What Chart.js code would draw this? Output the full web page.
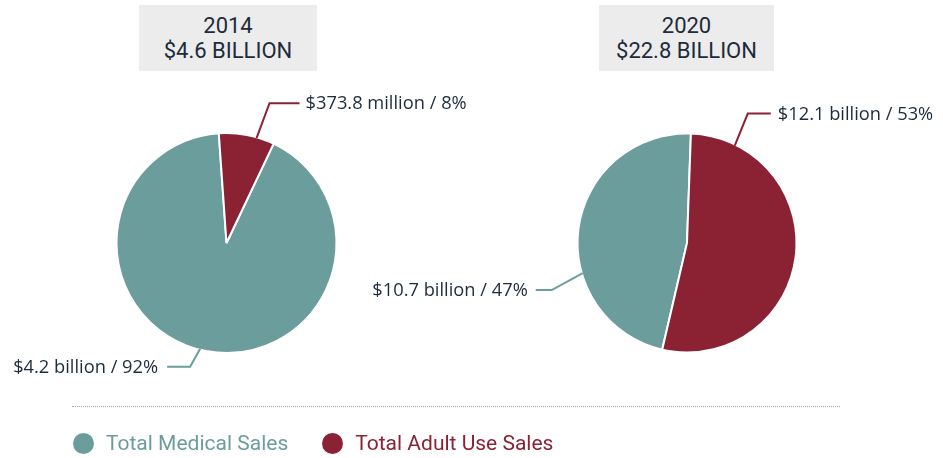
<!DOCTYPE html>
<html>
<head>
<meta charset="utf-8">
<script src="https://cdn.jsdelivr.net/npm/chart.js@4.4.1/dist/chart.umd.min.js"></script>
<style>
  html, body { margin: 0; padding: 0; background: #fff; }
  #wrap { position: relative; width: 943px; height: 458px; overflow: hidden; }
  #wrap canvas { position: absolute; left: 0; top: 0; }
  .title {
    position: absolute; top: 5px; height: 66px; background: #ececec; color: #1d2b3b;
    font: 22px Roboto, sans-serif; line-height: 25px; text-align: center;
    display: flex; flex-direction: column; justify-content: center;
  }
  .rule { position: absolute; left: 72px; top: 406px; width: 768px; border-top: 1px dotted #a8a8a8; }
  .legend { position: absolute; left: 73px; top: 431px; display: flex; align-items: center; font: 21px Roboto, sans-serif; }
  .legend .item { display: flex; align-items: center; margin-right: 34px; }
  .legend .dot { width: 21px; height: 21px; border-radius: 50%; margin-right: 12px; }
</style>
</head>
<body>
<div id="wrap">
  <canvas id="pie2014" width="943" height="458"></canvas>
  <canvas id="pie2020" width="943" height="458"></canvas>
  <div class="rule"></div>
  <div class="legend" id="legend"></div>
</div>
<script>
'use strict';

// data
const years = ['2014', '2020'];
const totals = ['$4.6 BILLION', '$22.8 BILLION'];
const categories = ['Total Medical Sales', 'Total Adult Use Sales'];
const sales2014 = [4.2, 0.3738];   // $ billion: medical, adult use
const sales2020 = [10.7, 12.1];
const labels2014 = ['$4.2 billion / 92%', '$373.8 million / 8%'];
const labels2020 = ['$10.7 billion / 47%', '$12.1 billion / 53%'];

const colors = ['#6b9d9c', '#8b2234'];
const textColor = '#1d2b3b';

// title boxes
const boxes = [{ left: 139, width: 178 }, { left: 599, width: 175 }];
years.forEach((y, i) => {
  const d = document.createElement('div');
  d.className = 'title';
  d.style.left = boxes[i].left + 'px';
  d.style.width = boxes[i].width + 'px';
  d.innerHTML = '<div>' + y + '</div><div>' + totals[i] + '</div>';
  document.getElementById('wrap').appendChild(d);
});

// legend
const legend = document.getElementById('legend');
categories.forEach((c, i) => {
  const it = document.createElement('div');
  it.className = 'item';
  it.innerHTML = '<span class="dot" style="background:' + colors[i] + '"></span>' +
    '<span style="color:' + colors[i] + '">' + c + '</span>';
  legend.appendChild(it);
});

// leader lines + slice labels
const leaderPlugin = {
  id: 'leaders',
  afterDatasetsDraw(chart, args, opts) {
    const ctx = chart.ctx;
    const arcs = chart.getDatasetMeta(0).data;
    arcs.forEach((arc, i) => {
      const L = opts.items[i];
      const p = arc.getProps(['x', 'y', 'startAngle', 'endAngle', 'outerRadius'], true);
      const a = p.startAngle + L.at * (p.endAngle - p.startAngle);
      const x0 = p.x + Math.cos(a) * (p.outerRadius - 1);
      const y0 = p.y + Math.sin(a) * (p.outerRadius - 1);
      const x1 = x0 + L.dx, y1 = y0 + L.dy;
      const x2 = x1 + L.run;
      ctx.save();
      ctx.strokeStyle = colors[i];
      ctx.lineWidth = 2;
      ctx.beginPath();
      ctx.moveTo(x0, y0);
      ctx.lineTo(x1, y1);
      ctx.lineTo(x2, y1);
      ctx.stroke();
      ctx.fillStyle = textColor;
      ctx.font = '18.3px "Open Sans", sans-serif';
      ctx.textBaseline = 'middle';
      ctx.textAlign = L.run > 0 ? 'left' : 'right';
      ctx.fillText(opts.texts[i], x2 + (L.run > 0 ? L.gap : -L.gap), y1 + 1);
      ctx.restore();
    });
  }
};

const makePie = (id, values, texts, rotation, cx, radius, items) => {
  const padL = cx < 471.5 ? 0 : 2 * cx - 943;
  const padR = cx < 471.5 ? 943 - 2 * cx : 0;
  return new Chart(document.getElementById(id), {
    type: 'pie',
    data: {
      labels: categories,
      datasets: [{
        data: values,
        backgroundColor: colors,
        borderColor: '#ffffff',
        borderWidth: 2
      }]
    },
    options: {
      responsive: false,
      animation: false,
      events: [],
      rotation: rotation,
      radius: radius,
      layout: { padding: { left: padL, right: padR, top: 80, bottom: 52 } },
      plugins: {
        legend: { display: false },
        tooltip: { enabled: false },
        leaders: { texts: texts, items: items }
      }
    },
    plugins: [leaderPlugin]
  });
};

makePie('pie2014', sales2014, labels2014, 25.4, 226.5, 110, [
  { at: 0.51, dx: -10, dy: 18, run: -23, gap: 9 },
  { at: 0.68, dx: 13, dy: -35, run: 30, gap: 6 }
]);
makePie('pie2020', sales2020, labels2020, 193.1, 687, 109.5, [
  { at: 0.36, dx: -31, dy: 17, run: -16, gap: 8 },
  { at: 0.126, dx: 13, dy: -32, run: 23, gap: 7 }
]);
</script>
</body>
</html>
